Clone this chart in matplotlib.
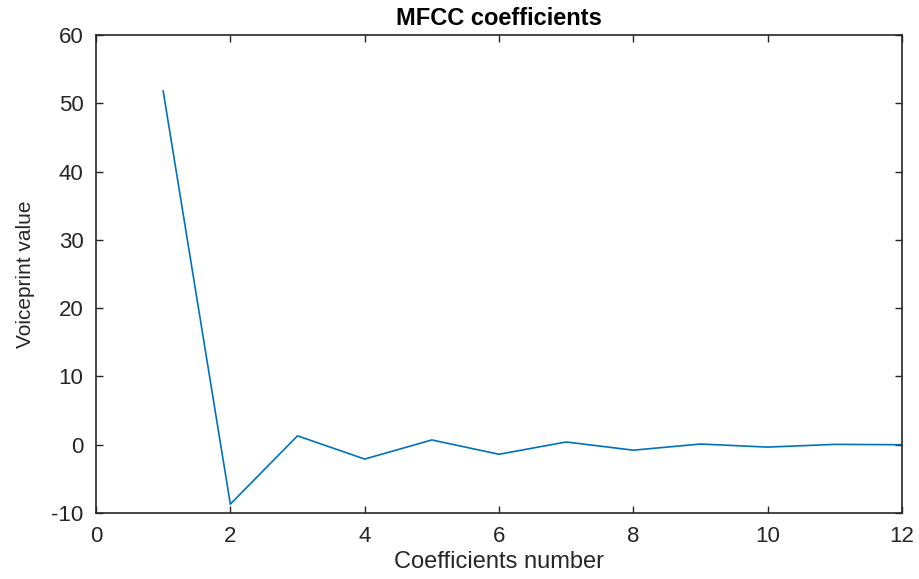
import matplotlib
matplotlib.use("Agg")
import matplotlib.pyplot as plt

coef_numbers = [1, 2, 3, 4, 5, 6, 7, 8, 9, 10, 11, 12]
voiceprint_values = [51.8, -8.7, 1.3, -2.1, 0.7, -1.4, 0.4, -0.8, 0.1, -0.35, 0.05, 0.0]
x_ticks = [0, 2, 4, 6, 8, 10, 12]
y_ticks = [-10, 0, 10, 20, 30, 40, 50, 60]

plt.rcParams['font.family'] = ['Liberation Sans', 'DejaVu Sans']
plt.rcParams['axes.unicode_minus'] = False

fig = plt.figure(figsize=(9.2, 5.79), dpi=100)
ax = fig.add_axes([96/920, 1-513/579, (902-96)/920, (513-35)/579])
ax.plot(coef_numbers, voiceprint_values, color='#0072BD', linewidth=1.2)
ax.set_xlim(0, 12)
ax.set_ylim(-10, 60)
ax.set_xticks(x_ticks)
ax.set_yticks(y_ticks)
ax.tick_params(direction='in', top=True, right=True, length=5, width=1,
               labelsize=16, colors='#262626')
ax.tick_params(axis='y', pad=9)
ax.tick_params(axis='x', pad=9)
for s in ax.spines.values():
    s.set_color('#262626')
    s.set_linewidth(1.2)
ax.set_title('MFCC coefficients', fontsize=17, fontweight='bold', pad=7)
ax.set_xlabel('Coefficients number', fontsize=17, color='#262626', labelpad=3)
ax.set_ylabel('Voiceprint value', fontsize=15, color='#262626', labelpad=12)
fig.savefig('out.png', dpi=100)
